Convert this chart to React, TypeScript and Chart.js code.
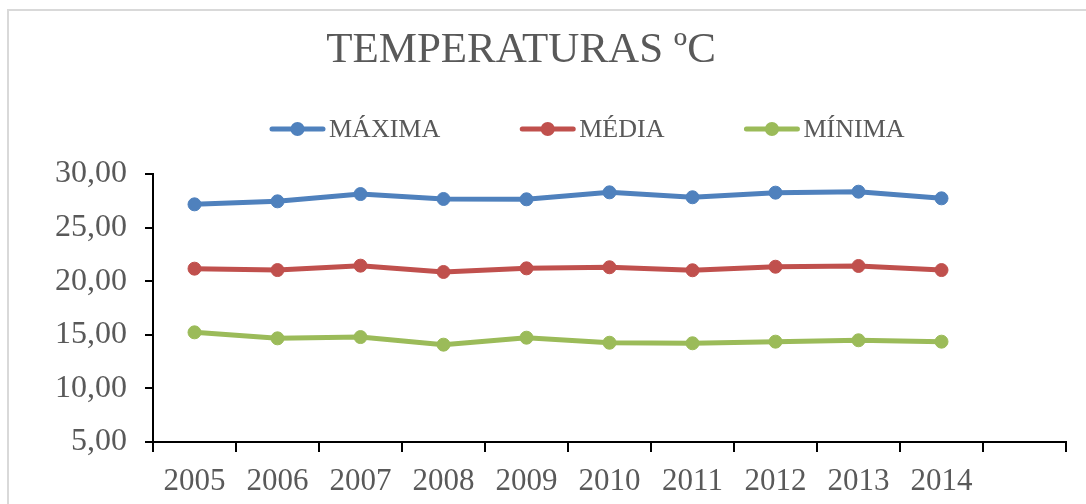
import React, { useEffect, useRef } from 'react';
import { Chart, registerables } from 'chart.js';

Chart.register(...registerables);

const YEARS = ['2005', '2006', '2007', '2008', '2009', '2010', '2011', '2012', '2013', '2014', ''];
const MAXIMA = [27.17, 27.45, 28.13, 27.67, 27.64, 28.29, 27.83, 28.26, 28.35, 27.73];
const MEDIA = [21.17, 21.04, 21.45, 20.86, 21.2, 21.3, 21.02, 21.35, 21.42, 21.04];
const MINIMA = [15.23, 14.67, 14.79, 14.08, 14.73, 14.26, 14.21, 14.36, 14.49, 14.36];
const SERIES_NAMES = ['MÁXIMA', 'MÉDIA', 'MÍNIMA'];
const SERIES_COLORS = ['#4F81BD', '#C0504D', '#9BBB59'];
const TITLE = 'TEMPERATURAS ºC';
const Y_MIN = 5;
const Y_MAX = 30;
const Y_STEP = 5;

const FONT = "'Liberation Serif', 'Times New Roman', serif";
const TEXT_COLOR = '#595959';

const decorPlugin = {
  id: 'decor',
  beforeDraw(chart: any) {
    const ctx = chart.ctx;
    ctx.save();
    ctx.strokeStyle = '#D9D9D9';
    ctx.lineWidth = 2;
    ctx.strokeRect(8, 10, 1300, 700);
    ctx.restore();
  },
  afterDraw(chart: any) {
    const ctx = chart.ctx;
    ctx.save();
    // title
    ctx.fillStyle = TEXT_COLOR;
    ctx.font = `43px ${FONT}`;
    ctx.textAlign = 'center';
    ctx.textBaseline = 'alphabetic';
    ctx.fillText(TITLE, 521, 62);
    // legend
    ctx.font = `26px ${FONT}`;
    ctx.textAlign = 'left';
    ctx.textBaseline = 'middle';
    let x = 270;
    const y = 129;
    const markerW = 55;
    chart.data.datasets.forEach((ds: any) => {
      ctx.strokeStyle = ds.borderColor;
      ctx.lineWidth = 5;
      ctx.lineCap = 'round';
      ctx.beginPath();
      ctx.moveTo(x + 2, y);
      ctx.lineTo(x + markerW - 2, y);
      ctx.stroke();
      ctx.fillStyle = ds.borderColor;
      ctx.beginPath();
      ctx.arc(x + markerW / 2, y, 7, 0, Math.PI * 2);
      ctx.fill();
      ctx.fillStyle = TEXT_COLOR;
      ctx.fillText(ds.label, x + markerW + 4, y + 1);
      const w = ctx.measureText(ds.label).width;
      x += markerW + 4 + w + 80;
    });
    ctx.restore();
  },
};

export default function App() {
  const ref = useRef<HTMLCanvasElement | null>(null);
  useEffect(() => {
    if (!ref.current) return;
    const seriesValues = [MAXIMA, MEDIA, MINIMA];
    const chart = new Chart(ref.current, {
      type: 'line',
      data: {
        labels: YEARS,
        datasets: seriesValues.map((vals, i) => ({
          label: SERIES_NAMES[i],
          data: vals,
          borderColor: SERIES_COLORS[i],
          backgroundColor: SERIES_COLORS[i],
          pointBackgroundColor: SERIES_COLORS[i],
          pointBorderColor: SERIES_COLORS[i],
          borderWidth: 5,
          pointRadius: 6.5,
          pointBorderWidth: 1,
          tension: 0,
          fill: false,
        })),
      },
      options: {
        responsive: false,
        animation: false,
        layout: { padding: { top: 174, right: 20, left: 0, bottom: 0 } },
        plugins: {
          legend: { display: false },
          title: { display: false },
          tooltip: { enabled: false },
        },
        scales: {
          x: {
            type: 'category',
            offset: true,
            grid: {
              offset: true,
              drawOnChartArea: false,
              drawTicks: true,
              tickLength: 10,
              color: '#000',
              lineWidth: 2,
            },
            border: { display: true, color: '#000', width: 2 },
            ticks: {
              font: { family: FONT, size: 31 },
              color: TEXT_COLOR,
              padding: 11,
              maxRotation: 0,
              autoSkip: false,
            },
            afterFit: (s: any) => {
              s.height = 62;
            },
          },
          y: {
            min: Y_MIN,
            max: Y_MAX,
            grid: {
              drawOnChartArea: false,
              drawTicks: true,
              tickLength: 8,
              color: '#000',
              lineWidth: 2,
            },
            border: { display: true, color: '#000', width: 2 },
            ticks: {
              stepSize: Y_STEP,
              font: { family: FONT, size: 32 },
              color: TEXT_COLOR,
              padding: 18,
              callback: (v: any) => Number(v).toFixed(2).replace('.', ','),
            },
            afterFit: (s: any) => {
              s.width = 153;
            },
          },
        },
      },
      plugins: [decorPlugin],
    });
    return () => chart.destroy();
  }, []);
  return (
    <div style={{ position: 'fixed', left: 0, top: 0, width: 1086, height: 504, background: '#fff' }}>
      <canvas ref={ref} width={1086} height={504} />
    </div>
  );
}
